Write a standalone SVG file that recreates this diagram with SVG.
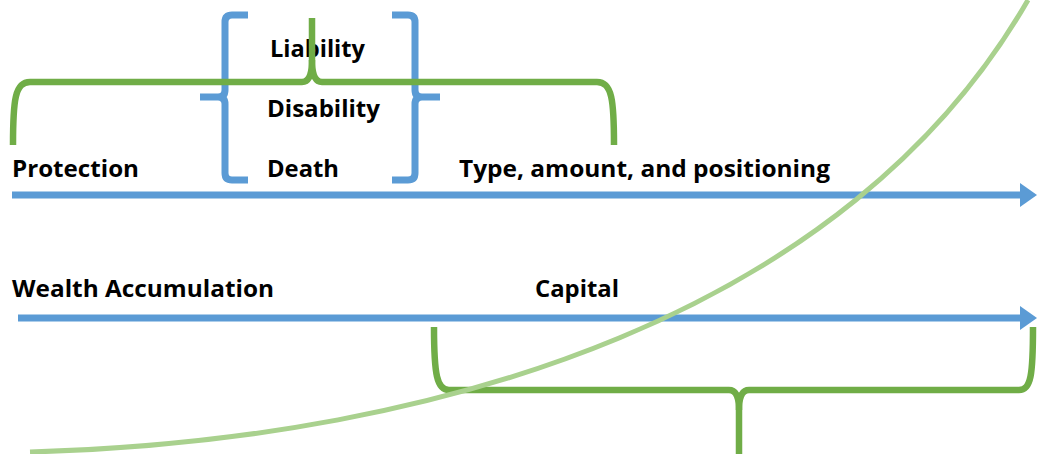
<svg xmlns="http://www.w3.org/2000/svg" width="1037" height="454" viewBox="0 0 1037 454">
<defs>
<style>
.lbl{font-family:"Open Sans","Liberation Sans",sans-serif;font-weight:bold;font-size:22.5px;fill:#000}
.blue{fill:none;stroke:#5B9BD5;stroke-width:7}
.grn{fill:none;stroke:#70AD47;stroke-width:6.5}
.curve{fill:none;stroke:#A9D18E;stroke-width:5}
</style>
<marker id="ah" markerUnits="userSpaceOnUse" markerWidth="17" markerHeight="24" refX="1" refY="12" orient="auto" overflow="visible">
<path d="M0,0 L17,12 L0,24 z" fill="#5B9BD5"/>
</marker>
</defs>
<rect width="1037" height="454" fill="#fff"/>
<g id="connectors">
<line class="blue" x1="12" y1="195" x2="1021" y2="195" marker-end="url(#ah)"/>
<line class="blue" x1="18" y1="318" x2="1021" y2="318" marker-end="url(#ah)"/>
</g>
<g id="risk-bracket-left">
<path class="blue" d="M248,15 H232 Q225,15 225,22 V90 Q225,97 218,97 H200 M218,97 Q225,97 225,104 V173 Q225,180 232,180 H248"/>
</g>
<g id="risk-bracket-right">
<path class="blue" d="M392,15 H408 Q415,15 415,22 V90 Q415,97 422,97 H440 M422,97 Q415,97 415,104 V173 Q415,180 408,180 H392"/>
</g>
<g id="labels">
<text class="lbl" x="270" y="57" textLength="95" lengthAdjust="spacingAndGlyphs">Liability</text>
<text class="lbl" x="267" y="117" textLength="113" lengthAdjust="spacingAndGlyphs">Disability</text>
<text class="lbl" x="267" y="177" textLength="72" lengthAdjust="spacingAndGlyphs">Death</text>
<text class="lbl" x="12" y="177" textLength="127" lengthAdjust="spacingAndGlyphs">Protection</text>
<text class="lbl" x="459" y="177" textLength="371" lengthAdjust="spacingAndGlyphs">Type, amount, and positioning</text>
<text class="lbl" x="12" y="297" textLength="262" lengthAdjust="spacingAndGlyphs">Wealth Accumulation</text>
<text class="lbl" x="535" y="297" textLength="84" lengthAdjust="spacingAndGlyphs">Capital</text>
</g>
<g id="protection-brace">
<path class="grn" d="M13,145 C13,100 15,82 30,82 H302 Q312,82 312,60 V18"/>
<path class="grn" d="M614,145 C614,100 612,82 597,82 H322 Q312,82 312,60"/>
</g>
<g id="capital-brace">
<path class="grn" d="M434,327 C434,375 437,390 449,390 H729 Q739,390 739,410 V454"/>
<path class="grn" d="M1033,327 C1033,375 1031,390 1019,390 H749 Q739,390 739,410"/>
</g>
<g id="growth-curve">
<path class="curve" d="M30,452 C450,440 850,310 1028,0"/>
</g>
</svg>
